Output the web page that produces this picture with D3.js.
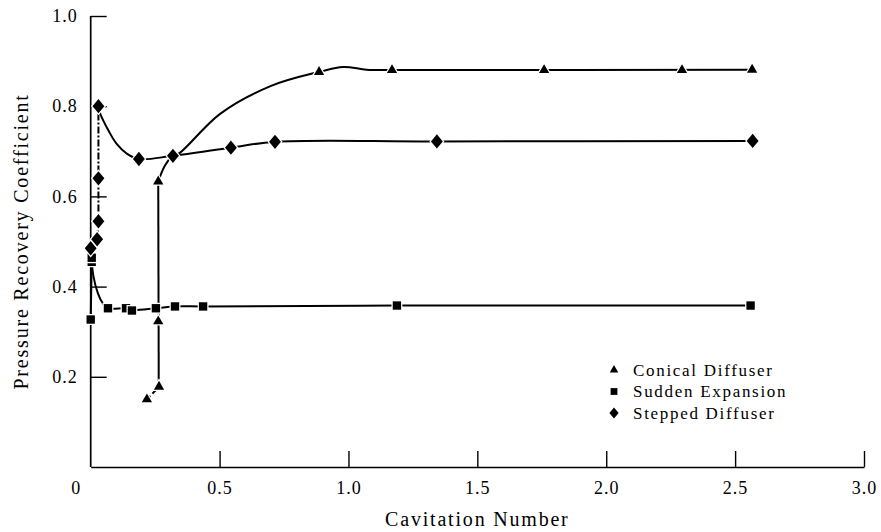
<!DOCTYPE html>
<html>
<head>
<meta charset="utf-8">
<script src="https://cdn.jsdelivr.net/npm/d3@7"></script>
<style>
  body { margin: 0; background: #fff; }
  text { font-family: "Liberation Serif", "Times New Roman", serif; fill: #000; }
</style>
</head>
<body>
<div id="chart"></div>
<script>
// markers: [cavitation number, pressure recovery coefficient]
const conicalPoints = [[0.004, 0.468], [0.218, 0.150], [0.265, 0.178], [0.262, 0.323], [0.262, 0.633],
    [0.886, 0.876], [1.169, 0.880], [1.759, 0.880], [2.294, 0.880], [2.566, 0.881]]
const suddenPoints = [[0.0, 0.327], [0.004, 0.455], [0.004, 0.464], [0.067, 0.352], [0.137, 0.352],
    [0.160, 0.347], [0.253, 0.352], [0.327, 0.356], [0.436, 0.356], [1.188, 0.358], [2.560, 0.358]]
const steppedPoints = [[0.0, 0.485], [0.025, 0.505], [0.030, 0.545], [0.030, 0.640], [0.030, 0.800],
    [0.187, 0.683], [0.319, 0.690], [0.544, 0.708], [0.715, 0.721], [1.343, 0.722], [2.568, 0.723]]

// hand-fitted curves as drawn in the figure
const conicalTail = [[0.218, 0.150], [0.265, 0.178]]
const conicalRise = [[0.264, 0.178], [0.262, 0.633]]
const conicalCurve = [[0.262, 0.633], [0.285, 0.665], [0.308, 0.684], [0.347, 0.697], [0.502, 0.783],
    [0.700, 0.845], [0.886, 0.876], [0.980, 0.887], [1.070, 0.881], [1.169, 0.880], [2.566, 0.881]]
const suddenRise = [[0.0, 0.327], [0.004, 0.460]]
const suddenCurve = [[0.004, 0.460], [0.010, 0.425], [0.028, 0.385], [0.048, 0.362], [0.067, 0.352],
    [0.137, 0.352], [0.160, 0.348], [0.253, 0.352], [0.327, 0.356], [0.436, 0.356], [1.188, 0.358], [2.560, 0.358]]
const steppedRise = [[0.0, 0.485], [0.025, 0.505], [0.030, 0.545], [0.030, 0.640], [0.030, 0.800]]
const steppedCurve = [[0.030, 0.800], [0.036, 0.785], [0.070, 0.745], [0.100, 0.717], [0.140, 0.695],
    [0.187, 0.683], [0.319, 0.690], [0.544, 0.708], [0.715, 0.721], [1.343, 0.722], [2.568, 0.723]]

const xTicks = [0.5, 1.0, 1.5, 2.0, 2.5, 3.0]
const yTicks = [0.2, 0.4, 0.6, 0.8, 1.0]
const legendNames = ["Conical Diffuser", "Sudden Expansion", "Stepped Diffuser"]

const width = 881, height = 532

const x = d3.scaleLinear().domain([0, 3]).range([90.7, 864])
const y = d3.scaleLinear().domain([0, 1]).range([467, 16])

const svg = d3.select("#chart").append("svg")
    .attr("width", width)
    .attr("height", height)

// custom diamond, a bit taller than wide
const diamond = {
    draw(ctx, size) {
        const w = Math.sqrt(size) * 0.58, h = Math.sqrt(size) * 0.7
        ctx.moveTo(0, -h); ctx.lineTo(w, 0); ctx.lineTo(0, h); ctx.lineTo(-w, 0); ctx.closePath()
    }
}

// axes
const xAxis = svg.append("g")
    .attr("transform", `translate(0,${y(0)})`)
    .call(d3.axisBottom(x).tickValues(xTicks).tickSizeInner(-16).tickSizeOuter(0).tickPadding(14)
        .tickFormat(d3.format(".1f")))
const yAxis = svg.append("g")
    .attr("transform", `translate(${x(0)},0)`)
    .call(d3.axisLeft(y).tickValues(yTicks).tickSizeInner(-16).tickSizeOuter(0).tickPadding(13)
        .tickFormat(d3.format(".1f")))

for (const ax of [xAxis, yAxis]) {
    ax.select(".domain").attr("stroke", "#000").attr("stroke-width", 1.7)
    ax.selectAll(".tick line").attr("stroke", "#000").attr("stroke-width", 1.4)
    ax.selectAll(".tick text")
        .style("font-family", '"Liberation Serif", serif')
        .style("font-size", "18px")
        .style("letter-spacing", "1px")
        .attr("fill", "#000")
}
// y domain needs to go from 0 to 1.0
yAxis.select(".domain").attr("d", `M0,${y(0)}V${y(1)}`)

svg.append("text")
    .attr("x", x(0) - 15)
    .attr("y", y(0) + 14)
    .attr("dy", "0.71em")
    .attr("text-anchor", "middle")
    .style("font-size", "18px")
    .text("0")

// titles
svg.append("text")
    .attr("x", (x(0) + x(3)) / 2)
    .attr("y", 526)
    .attr("text-anchor", "middle")
    .style("font-size", "20px")
    .style("letter-spacing", "1.8px")
    .text("Cavitation Number")

svg.append("text")
    .attr("transform", `translate(28,${(y(0) + y(1)) / 2}) rotate(-90)`)
    .attr("text-anchor", "middle")
    .style("font-size", "20px")
    .style("letter-spacing", "1.8px")
    .text("Pressure Recovery Coefficient")

// lines
const straight = d3.line().x(d => x(d[0])).y(d => y(d[1]))
const smooth = d3.line().x(d => x(d[0])).y(d => y(d[1])).curve(d3.curveCatmullRom.alpha(0.5))

const paths = [
    {data: conicalTail, gen: straight, dash: "5,3"},
    {data: conicalRise, gen: straight, dash: null},
    {data: conicalCurve, gen: smooth, dash: null},
    {data: suddenRise, gen: straight, dash: null},
    {data: suddenCurve, gen: smooth, dash: null},
    {data: steppedRise, gen: straight, dash: "7,2,2,2"},
    {data: steppedCurve, gen: smooth, dash: null}
]

svg.append("g").selectAll("path")
    .data(paths)
    .join("path")
    .attr("d", d => d.gen(d.data))
    .attr("fill", "none")
    .attr("stroke", "#000")
    .attr("stroke-width", 2)
    .attr("stroke-dasharray", d => d.dash)

// markers, white halo gives the little gaps in the lines
const series = [
    {points: conicalPoints, type: d3.symbolTriangle, size: 46},
    {points: suddenPoints, type: d3.symbolSquare, size: 70},
    {points: steppedPoints, type: diamond, size: 105}
]

series.forEach(s => {
    svg.append("g").selectAll("path")
        .data(s.points)
        .join("path")
        .attr("transform", d => `translate(${x(d[0])},${y(d[1])})`)
        .attr("d", d3.symbol().type(s.type).size(s.size))
        .attr("fill", "#000")
        .attr("stroke", "#fff")
        .attr("stroke-width", 2.5)
        .attr("paint-order", "stroke")
})

// legend
const legend = svg.append("g").attr("transform", "translate(614,370)")
const legendSymbols = [
    {type: d3.symbolTriangle, size: 32},
    {type: d3.symbolSquare, size: 46},
    {type: diamond, size: 64}
]
legendNames.forEach((name, i) => {
    const row = legend.append("g").attr("transform", `translate(0,${i * 21.5})`)
    row.append("path")
        .attr("d", d3.symbol().type(legendSymbols[i].type).size(legendSymbols[i].size))
        .attr("fill", "#000")
    row.append("text")
        .attr("x", 19)
        .attr("dy", "0.35em")
        .style("font-size", "17px")
        .style("letter-spacing", "1.7px")
        .text(name)
})
</script>
</body>
</html>
